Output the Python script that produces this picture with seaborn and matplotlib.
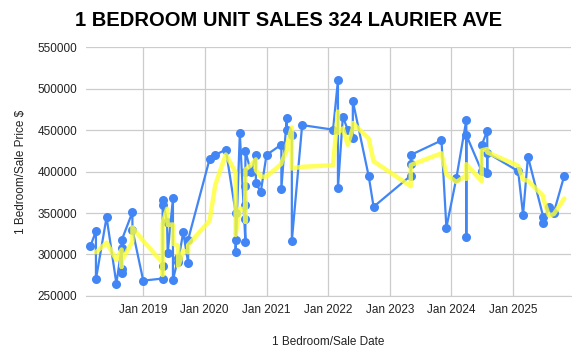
import numpy as np
import pandas as pd
import matplotlib
matplotlib.use("Agg")
import matplotlib.pyplot as plt
import matplotlib.dates as mdates
import seaborn as sns

# 1 bedroom sales, in sheet order
sale_dates = [
    "2018-02-23", "2018-03-28", "2018-03-28", "2018-05-30", "2018-07-27",
    "2018-08-27", "2018-08-27", "2018-08-27", "2018-08-27",
    "2018-10-30", "2018-10-30", "2019-01-02",
    "2019-04-27", "2019-04-27", "2019-04-27", "2019-04-27",
    "2019-05-23", "2019-05-27", "2019-06-27", "2019-06-27",
    "2019-07-28", "2019-07-28", "2019-08-27", "2019-09-25", "2019-09-25",
    "2020-01-30", "2020-03-04", "2020-05-05",
    "2020-07-02", "2020-07-02", "2020-07-02", "2020-07-27",
    "2020-08-29", "2020-08-29", "2020-08-29", "2020-08-29", "2020-08-29", "2020-08-29",
    "2020-10-01", "2020-10-30", "2020-10-30", "2020-11-28", "2021-01-01",
    "2021-03-30", "2021-03-30", "2021-05-01", "2021-05-01",
    "2021-05-31", "2021-05-31", "2021-07-31",
    "2022-01-30", "2022-02-28", "2022-02-28", "2022-03-29", "2022-04-27",
    "2022-05-27", "2022-05-27", "2022-08-29", "2022-09-27",
    "2023-05-05", "2023-05-05", "2023-05-05", "2023-11-03", "2023-12-02",
    "2024-01-30", "2024-03-29", "2024-03-29", "2024-03-29",
    "2024-06-28", "2024-06-28", "2024-07-31", "2024-07-31", "2024-07-31",
    "2025-01-30", "2025-02-28", "2025-03-29", "2025-06-28", "2025-06-28",
    "2025-07-31", "2025-08-29", "2025-10-30",
]
sale_prices = [
    310000, 328000, 270000, 345000, 265000,
    308000, 283000, 278000, 317000,
    351000, 330000, 268500,
    271000, 286500, 360000, 366000,
    339500, 301500, 367500, 269500,
    295500, 291500, 327000, 289500, 318000,
    415000, 420000, 426500,
    350500, 317500, 302500, 446000,
    315500, 343000, 360000, 383000, 399000, 425000,
    399000, 420000, 386000, 375500, 420000,
    432500, 379500, 465000, 450000,
    444500, 316500, 456000,
    450500, 510000, 380000, 466000, 450500,
    440000, 485000, 394500, 357500,
    395000, 408500, 420000, 437500, 332500,
    392000, 462000, 320500, 444000,
    400500, 432000, 449000, 398000, 422500,
    400500, 348000, 418000, 345000, 338500,
    357000, 350500, 395000,
]
y_ticks = [250000, 300000, 350000, 400000, 450000, 500000, 550000]
x_tick_years = [2019, 2020, 2021, 2022, 2023, 2024, 2025]

df = pd.DataFrame({"date": pd.to_datetime(sale_dates), "price": sale_prices})
# sheets moving-average trendline, period 3
df["trend"] = df["price"].rolling(3).mean()

sns.set_style("white")
plt.rcParams["font.family"] = ["Liberation Sans", "DejaVu Sans"]

fig = plt.figure(figsize=(5.72, 3.57), dpi=100)
ax = fig.add_axes([0.150, 0.171, 0.848, 0.697])

ax.grid(True, color="#cccccc", linewidth=0.9)
ax.set_axisbelow(True)

sns.lineplot(data=df, x="date", y="price", ax=ax, sort=False, estimator=None,
             color="#4285f4", linewidth=1.6, marker="o", markersize=6.5,
             markeredgewidth=0, zorder=3)
sns.lineplot(data=df.dropna(), x="date", y="trend", ax=ax, sort=False, estimator=None,
             color="#ffff33", alpha=0.8, linewidth=3.2, zorder=4)

ax.set_ylim(250000, 550000)
ax.set_yticks(y_ticks)
ax.set_yticklabels([str(v) for v in y_ticks])
ax.set_xlim(pd.Timestamp("2018-01-27"), pd.Timestamp("2025-12-08"))
ax.set_xticks([pd.Timestamp(f"{y}-01-01") for y in x_tick_years])
ax.xaxis.set_major_formatter(mdates.DateFormatter("Jan %Y"))
ax.tick_params(axis="both", length=0, labelsize=8.5, colors="#222222", pad=6)

for s in ["top", "right", "left"]:
    ax.spines[s].set_visible(False)
ax.spines["bottom"].set_color("#cccccc")

ax.set_xlabel("1 Bedroom/Sale Date", fontsize=8.5, color="#222222", labelpad=14)
ax.set_ylabel("1 Bedroom/Sale Price $", fontsize=8.5, color="#222222", labelpad=8)
fig.suptitle("1 BEDROOM UNIT SALES 324 LAURIER AVE", x=0.505, y=0.968,
             fontsize=14.5, fontweight="bold", color="#000000")

fig.savefig("out.png", dpi=100)
